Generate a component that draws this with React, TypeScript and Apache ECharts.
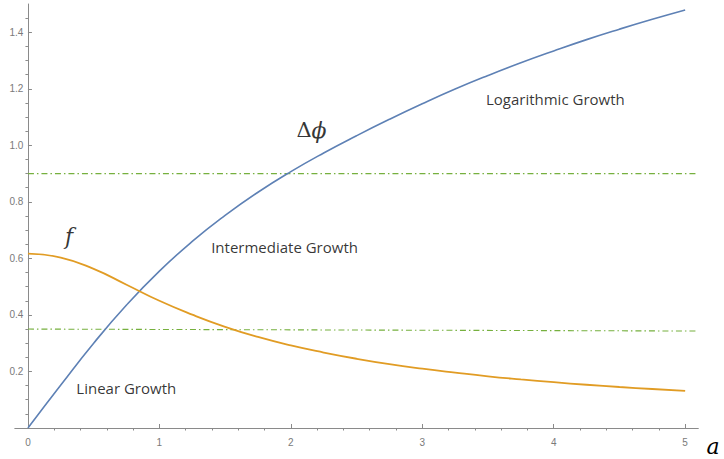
import { useEffect, useRef } from 'react';
import * as echarts from 'echarts';

// sample points along a
const aValues = [0, 0.25, 0.5, 0.75, 1, 1.25, 1.5, 1.75, 2, 2.25, 2.5, 2.75, 3, 3.25, 3.5, 3.75, 4, 4.25, 4.5, 4.75, 5];

// phase difference Δϕ(a)
const deltaPhi = [0, 0.152, 0.3, 0.435, 0.555, 0.66, 0.752, 0.834, 0.907, 0.973, 1.034, 1.092, 1.147, 1.199, 1.247, 1.292, 1.334, 1.374, 1.411, 1.446, 1.479];

// f(a)
const fValues = [0.617, 0.603, 0.563, 0.507, 0.45, 0.401, 0.358, 0.322, 0.292, 0.267, 0.245, 0.226, 0.21, 0.196, 0.183, 0.172, 0.162, 0.153, 0.145, 0.138, 0.131];

// regime thresholds (dot-dashed guides)
const upperGuide: [number, number][] = [[0, 0.9], [5.1, 0.9]];
const lowerGuide: [number, number][] = [[0, 0.35], [5.1, 0.343]];

// regime annotations
const regimeNames = ['Logarithmic Growth', 'Intermediate Growth', 'Linear Growth'];
const regimeA = [4.016, 1.956, 0.752];
const regimeV = [1.162, 0.637, 0.138];

// curve symbols
const symbolTexts = ['{up|Δ}{it|ϕ}', '{it|f}'];
const symbolA = [2.161, 0.316];
const symbolV = [1.051, 0.676];

// axis ticks
const xMajor = [0, 1, 2, 3, 4, 5];
const yMajor = [0.2, 0.4, 0.6, 0.8, 1.0, 1.2, 1.4];

const xMinor: number[] = [];
for (let i = 1; i < 25; i++) if (i % 5 !== 0) xMinor.push(i / 5);
const yMinor: number[] = [];
for (let i = 1; i < 30; i++) if (i % 4 !== 0) yMinor.push(i / 20);

const AXIS = '#8a8a8a';
const LABEL = '#7a7a7a';
const BLUE = '#5E81B5';
const ORANGE = '#E19C24';
const GREEN = '#76B03E';
const CLEAR = 'rgba(0,0,0,0)';

export default function App() {
  const ref = useRef<HTMLDivElement>(null);

  useEffect(() => {
    document.body.style.margin = '0';
    const chart = echarts.init(ref.current!, null, { renderer: 'svg' });

    const tickLabel = { color: LABEL, fontSize: 10, fontFamily: 'Liberation Sans' };
    const guideStyle = { color: GREEN, width: 1.1, type: [6, 3, 1.5, 3] };

    chart.setOption({
      animation: false,
      backgroundColor: '#ffffff',
      grid: { left: 14.8, right: 25.7, top: 4, bottom: 31, containLabel: false, outerBoundsMode: 'none' },
      xAxis: [
        {
          type: 'value',
          min: -0.1,
          max: 5.1,
          axisLine: { onZero: true, lineStyle: { color: AXIS, width: 1 } },
          axisTick: { show: true, inside: true, length: 4, customValues: xMajor, lineStyle: { color: AXIS } },
          axisLabel: { ...tickLabel, margin: 9, customValues: xMajor, formatter: (v: number) => String(v) },
          splitLine: { show: false },
        },
        {
          type: 'value',
          min: -0.1,
          max: 5.1,
          axisLine: { show: false },
          axisTick: { show: true, inside: true, length: 2.5, customValues: xMinor, lineStyle: { color: AXIS } },
          axisLabel: { show: false },
          splitLine: { show: false },
        },
      ],
      yAxis: [
        {
          type: 'value',
          min: 0,
          max: 1.5,
          axisLine: { show: true, onZero: true, lineStyle: { color: AXIS, width: 1 } },
          axisTick: { show: true, inside: true, length: 4, customValues: yMajor, lineStyle: { color: AXIS } },
          // labels sit at the grid edge, so pull them across to the axis drawn at a = 0
          axisLabel: { ...tickLabel, margin: -8.6, customValues: yMajor, formatter: (v: number) => v.toFixed(1) },
          splitLine: { show: false },
        },
        {
          type: 'value',
          min: 0,
          max: 1.5,
          axisLine: { show: false, onZero: true },
          axisTick: { show: true, inside: true, length: 2.5, customValues: yMinor, lineStyle: { color: AXIS } },
          axisLabel: { show: false },
          splitLine: { show: false },
        },
      ],
      graphic: [
        {
          type: 'text',
          x: 713,
          y: 446,
          silent: true,
          style: {
            text: 'a',
            fill: '#000',
            font: 'italic 22px "DejaVu Serif"',
            align: 'center',
            verticalAlign: 'middle',
          },
        },
      ],
      series: [
        { type: 'line', data: upperGuide, showSymbol: false, silent: true, lineStyle: guideStyle },
        { type: 'line', data: lowerGuide, showSymbol: false, silent: true, lineStyle: guideStyle },
        {
          type: 'line',
          name: 'Δϕ',
          data: aValues.map((a, i) => [a, deltaPhi[i]]),
          smooth: 0.5,
          showSymbol: false,
          lineStyle: { color: BLUE, width: 1.6 },
        },
        {
          type: 'line',
          name: 'f',
          data: aValues.map((a, i) => [a, fValues[i]]),
          smooth: 0.5,
          showSymbol: false,
          lineStyle: { color: ORANGE, width: 1.8 },
        },
        {
          type: 'scatter',
          silent: true,
          symbolSize: 1,
          itemStyle: { color: CLEAR },
          data: regimeA.map((a, i) => ({ name: regimeNames[i], value: [a, regimeV[i]] })),
          label: {
            show: true,
            position: [0, 0],
            align: 'center',
            verticalAlign: 'middle',
            formatter: '{b}',
            color: '#000',
            fontSize: 15,
            fontFamily: 'Open Sans',
          },
        },
        {
          type: 'scatter',
          silent: true,
          symbolSize: 1,
          itemStyle: { color: CLEAR },
          data: symbolA.map((a, i) => ({ name: symbolTexts[i], value: [a, symbolV[i]] })),
          label: {
            show: true,
            position: [0, 0],
            align: 'center',
            verticalAlign: 'middle',
            formatter: '{b}',
            rich: {
              up: { fontFamily: 'DejaVu Serif', fontSize: 21, color: '#000' },
              it: { fontFamily: 'DejaVu Serif', fontStyle: 'italic', fontSize: 22, color: '#000' },
            },
          },
        },
      ],
    });

    return () => chart.dispose();
  }, []);

  return <div ref={ref} style={{ width: 724, height: 459 }} />;
}
